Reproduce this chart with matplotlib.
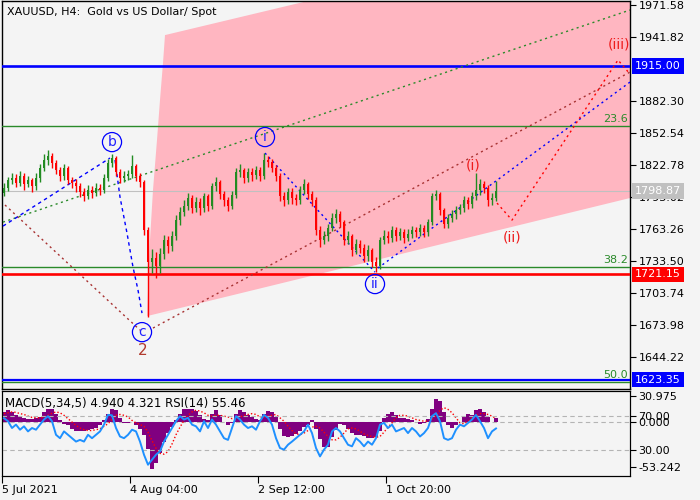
import numpy as np
import matplotlib
matplotlib.use("Agg")
import matplotlib.pyplot as plt

# ---- price data (H4 bars, two real bars per drawn candle) ----
first_open = 1797.0
closes = [
    1801.4, 1808.8, 1810.7, 1806.0, 1812.5, 1805.1, 1808.8, 1803.2, 1810.7, 1820.0,
    1827.4, 1831.1, 1824.6, 1818.1, 1812.5, 1820.0, 1808.8, 1806.0, 1803.2, 1797.6,
    1793.9, 1799.5, 1796.7, 1801.4, 1799.5, 1810.7, 1824.6, 1829.3, 1816.2, 1810.7,
    1812.5, 1814.4, 1821.8, 1812.5, 1806.9, 1762.3, 1732.5, 1736.3, 1728.8, 1740.0,
    1753.0, 1747.4, 1756.7, 1771.6, 1779.0, 1784.6, 1792.1, 1782.8, 1788.3, 1782.8,
    1793.9, 1784.6, 1803.2, 1806.9, 1795.8, 1790.2, 1784.6, 1794.9, 1816.2, 1818.1,
    1810.7, 1816.2, 1813.5, 1818.1, 1812.5, 1827.4, 1825.5, 1820.0, 1812.5, 1793.9,
    1790.2, 1797.6, 1792.1, 1790.2, 1799.5, 1805.1, 1795.8, 1790.2, 1762.3, 1753.0,
    1756.7, 1764.2, 1773.5, 1777.2, 1769.7, 1753.0, 1756.7, 1743.7, 1749.3, 1745.6,
    1738.1, 1743.7, 1732.5, 1728.8, 1753.0, 1756.7, 1754.9, 1762.3, 1756.7, 1760.4,
    1754.9, 1758.6, 1762.3, 1760.4, 1764.2, 1760.4, 1769.7, 1793.9, 1795.8, 1780.9,
    1767.9, 1773.5, 1777.2, 1780.9, 1782.8, 1790.2, 1786.5, 1793.9, 1799.5, 1805.1,
    1801.4, 1790.2, 1792.1, 1798.87,
]
highs = [
    1806, 1812, 1815, 1814, 1817, 1815, 1813, 1811, 1815, 1824,
    1833, 1836.7, 1834, 1827, 1821, 1824, 1822, 1812, 1810, 1806,
    1801, 1804, 1803, 1806, 1805, 1814, 1828, 1833, 1831, 1819,
    1817, 1818, 1832, 1824, 1815, 1809, 1765, 1745, 1742, 1746,
    1758, 1757, 1761, 1776, 1784, 1790, 1797, 1795, 1793, 1792,
    1797, 1796, 1806, 1812, 1809, 1799, 1793, 1799, 1820, 1824,
    1820, 1820, 1820, 1822, 1821, 1834, 1831, 1828, 1823, 1815,
    1798, 1801, 1801, 1796, 1803, 1810, 1807, 1799, 1793, 1766,
    1761, 1768, 1778, 1782, 1780, 1772, 1761, 1759, 1754, 1753,
    1749, 1748, 1746, 1737, 1756, 1762, 1761, 1766, 1765, 1764,
    1763, 1763, 1766, 1765, 1768, 1767, 1773, 1797, 1800, 1798,
    1783, 1777, 1781, 1785, 1787, 1794, 1793, 1798, 1815.3, 1810,
    1808, 1804, 1797, 1808,
]
lows = [
    1794, 1799, 1805, 1802, 1803, 1800, 1802, 1798, 1800, 1807,
    1817, 1823, 1820, 1814, 1808, 1809, 1805, 1801, 1798, 1793,
    1789, 1791, 1792, 1794, 1795, 1797, 1808, 1821, 1813, 1806,
    1807, 1809, 1811, 1808, 1802, 1758, 1681.4, 1722, 1718, 1722,
    1735, 1741, 1743, 1753, 1767, 1775, 1781, 1778, 1779, 1776,
    1779, 1780, 1782, 1799, 1791, 1785, 1780, 1782, 1792, 1812,
    1806, 1807, 1808, 1810, 1808, 1810, 1821, 1816, 1808, 1789,
    1785, 1787, 1787, 1786, 1787, 1796, 1791, 1785, 1758, 1747,
    1749, 1752, 1761, 1769, 1765, 1748, 1749, 1738, 1740, 1741,
    1733, 1734, 1728, 1723, 1726, 1749, 1750, 1751, 1752, 1753,
    1750, 1752, 1755, 1756, 1757, 1756, 1757, 1767, 1790, 1776,
    1764, 1764, 1770, 1773, 1777, 1779, 1782, 1783, 1790, 1795,
    1797, 1785, 1786, 1789,
]

# ---- indicator data ----
macd_main = [
    12, 14, 12, 8, 6, 5, 4, 4, 5, 6,
    12, 16, 15, 10, 2, -2, -4, -8, -10, -10,
    -11, -9, -8, -7, -4, 2, 10, 16, 14, 5,
    -1, -1, 0, -3, -8, -15, -32, -55, -48, -36,
    -24, -13, -6, 3, 10, 15, 16, 15, 13, 8,
    4, 2, 10, 14, 8, 0, -3, -1, 10, 14,
    12, 8, 6, 4, 2, 10, 13, 12, 6, -8,
    -16, -18, -16, -14, -10, -6, -3, 2, -8, -20,
    -29, -30, -18, -9, -2, -4, -8, -13, -15, -15,
    -17, -19, -19, -18, -10, 5, 10, 12, 8, 5,
    5, 4, 3, 0, -2, -1, 4, 15, 27, 25,
    12, -4, -7, -4, 0, 6, 9, 8, 14, 16,
    12, 6, 0, 4.94,
]
macd_signal = [
    10, 11, 12, 11.5, 10, 9, 7, 5.5, 5, 5,
    6, 8, 10.5, 12, 11, 8, 4, 0, -4, -7,
    -9, -10, -10, -9, -8, -5, -2, 3, 8, 9,
    8, 6, 2, -1, -3, -5, -12, -22, -31, -37,
    -38, -35, -26, -15, -6, 2, 8, 12, 14, 13,
    11, 8, 7, 8, 8, 7, 6, 4, 4, 6,
    8, 9, 10, 9, 6, 6, 7, 8, 9, 5,
    1, -5, -10, -14, -15, -13, -10, -6, -5, -7,
    -12, -17, -21, -21, -18, -13, -8, -7, -8, -11,
    -14, -16, -17, -18, -17, -12, -6, -1, 5, 8,
    8, 7, 5, 3, 2, 1, 1, 3, 8, 14,
    17, 15, 11, 5, -1, -2, 1, 5, 8, 10,
    10, 9, 7, 4.321,
]
rsi = [
    67.6, 64, 56, 60, 54, 58, 52, 56, 54, 60,
    66, 70, 64, 48, 44, 52, 48, 44, 40, 42,
    40, 48, 44, 48, 52, 60, 71.5, 71, 56, 46,
    44, 48, 54, 52, 40, 24.5, 12.7, 18.6, 24.5, 28.5,
    40, 48, 56, 64, 70, 66, 68, 60, 58, 52,
    64, 56, 66, 60, 52, 44, 42, 56, 70, 66,
    60, 56, 58, 54, 64, 71.5, 68, 60, 44, 32.4,
    30.5, 36.3, 40, 44, 48, 52, 60, 50, 32.4, 22.5,
    30.5, 36.3, 52, 56, 52, 44, 36.3, 34.4, 44, 40,
    34.4, 40, 36.3, 44, 60, 62, 56, 60, 52, 54,
    56, 50, 56, 52, 46, 50, 56, 70, 73.5, 64,
    44, 42, 44, 54, 60, 58, 62, 66, 71.5, 64,
    56, 44, 52, 55.46,
]

# ---- levels and analysis objects (bar index, price) ----
# 1912.06 is hidden behind the 1915.00 box in the original, so it is left out
price_ticks = [1971.58, 1941.82, 1882.30, 1852.54, 1822.78,
               1793.02, 1763.26, 1733.50, 1703.74, 1673.98, 1644.22]
fib_levels = [1859.1, 1728.0, 1621.2]
fib_names = ["23.6", "38.2", "50.0"]
target_hi = 1915.00
stop_lvl = 1721.15
target_lo = 1623.35
last_price = 1798.87

channel_x = [35.75, 36.5, 37.25, 38.25, 39.0, 39.75, 40.25, 156.5, 156.5]
channel_y = [1682.3, 1753.0, 1799.5, 1846.0, 1883.2, 1917.6, 1943.6, 2046.9, 1792.1]

green_x, green_y = [-0.25, 156.5], [1769.7, 1966.9]
brown1_x, brown1_y = [0.25, 34.0], [1785.6, 1669.3]
brown2_x, brown2_y = [37.25, 156.5], [1671.2, 1909.2]
blue_ab_x, blue_ab_y = [-0.25, 26.5], [1766.0, 1829.3]
blue_bc_x = [27.75, 29.0, 30.75, 32.25, 33.5, 34.5]
blue_bc_y = [1827.4, 1793.0, 1759.5, 1727.9, 1706.5, 1685.1]
blue_i_x, blue_i_y = [65.25, 92.75], [1833.9, 1723.2]
blue_ii_x, blue_ii_y = [93.5, 156.5], [1727.0, 1899.9]
proj_x = [123.25, 127.0, 153.5, 156.5]
proj_y = [1787.4, 1771.6, 1920.4, 1907.4]

circle_labels = ["b", "i", "c", "ii"]
circle_x = [27.0, 65.25, 34.5, 92.75]
circle_y = [1844.1, 1848.8, 1667.4, 1712.1]
minor_labels = ["(i)", "(ii)", "(iii)"]
minor_x = [117.25, 127.0, 153.75]
minor_y = [1822.8, 1755.8, 1934.4]

time_labels = ["5 Jul 2021", "4 Aug 04:00", "2 Sep 12:00", "1 Oct 20:00"]
time_pos = [-0.5, 31.5, 63.5, 95.5]

BG = "#f4f4f4"
UP = "#228b22"
DN = "#ff0000"
GREEN = "#2a8a2a"

fig = plt.figure(figsize=(7, 5), dpi=100, facecolor=BG)
ax = fig.add_axes([2 / 700, 1 - 388.7 / 500, 628 / 700, 387.7 / 500], facecolor=BG)
axm = fig.add_axes([2 / 700, 1 - 475.5 / 500, 628 / 700, 84.8 / 500], facecolor=BG)

# main chart
ax.set_xlim(-0.5, 156.5)
ax.set_ylim(1614.8, 1975.3)
ax.fill(channel_x, channel_y, color="#ffb6c1", lw=0, zorder=1)

ax.axhline(last_price, color="#c0c0c0", lw=0.8, zorder=2)
for lv in fib_levels:
    ax.axhline(lv, color=GREEN, lw=1.0, zorder=3)
ax.axhline(target_hi, color="#0000ff", lw=1.9, zorder=3)
ax.axhline(stop_lvl, color="#ff0000", lw=1.9, zorder=3)
ax.axhline(target_lo, color="#0000ff", lw=1.6, zorder=3)

dot = (0, (1.5, 2.5))
ax.plot(green_x, green_y, color=GREEN, lw=1, ls=dot, zorder=3)
ax.plot(brown1_x, brown1_y, color="#a83232", lw=1, ls=dot, zorder=3)
ax.plot(brown2_x, brown2_y, color="#a83232", lw=1, ls=dot, zorder=3)
ax.plot(blue_ab_x, blue_ab_y, color="#0000ff", lw=1, ls=(0, (2.5, 2.5)), zorder=3)
ax.plot(blue_bc_x, blue_bc_y, color="#0000ff", lw=1, ls=(0, (2.5, 2.5)), zorder=3)
ax.plot(blue_i_x, blue_i_y, color="#0000ff", lw=1, ls=dot, zorder=3)
ax.plot(blue_ii_x, blue_ii_y, color="#0000ff", lw=1, ls=dot, zorder=3)
ax.plot(proj_x, proj_y, color="#ff0000", lw=1, ls=dot, zorder=3)

# candles
opens = [first_open] + closes[:-1]
for i, (o, h, l, c) in enumerate(zip(opens, highs, lows, closes)):
    col = UP if c >= o else DN
    ax.vlines(i, l, h, color=col, lw=1.0, zorder=4)
    ax.bar(i, max(abs(c - o), 0.8), bottom=min(o, c), width=0.65,
           color=col, lw=0, zorder=4)

# wave marks
ax.scatter(circle_x, circle_y, s=190, facecolors="none", edgecolors="#0000ff",
           lw=0.9, zorder=6)
for t, x, y in zip(circle_labels, circle_x, circle_y):
    ax.text(x, y, t, color="#2020ff", fontsize=10, ha="center", va="center", zorder=7)
ax.text(34.75, 1650.7, "2", color="#b03a2e", fontsize=11, ha="center", va="center", zorder=7)
for t, x, y in zip(minor_labels, minor_x, minor_y):
    ax.text(x, y, t, color="#ee1c1c", fontsize=10, ha="center", va="center", zorder=7)

for t, lv in zip(fib_names, fib_levels):
    ax.text(156.0, lv + 1.5, t, color=GREEN, fontsize=8, ha="right", va="bottom", zorder=7)

ax.yaxis.tick_right()
ax.set_yticks(price_ticks)
ax.set_yticklabels(["%.2f" % v for v in price_ticks])
ax.tick_params(axis="y", length=4, width=0.8, labelsize=8, pad=2, colors="black")
ax.set_xticks([])
for s in ax.spines.values():
    s.set_linewidth(1.0)

for lv, fc in [(target_hi, "#0000ff"), (stop_lvl, "#ff0000"),
               (target_lo, "#0000ff"), (last_price, "#c0c0c0")]:
    ax.annotate("%.2f" % lv, xy=(1, lv), xycoords=("axes fraction", "data"),
                xytext=(5, 0), textcoords="offset pixels", fontsize=8, color="white",
                ha="left", va="center", annotation_clip=False, zorder=10,
                bbox=dict(boxstyle="square,pad=0.25", fc=fc, ec="none"))

fig.text(7 / 700, 1 - 12 / 500, "XAUUSD, H4:  Gold vs US Dollar/ Spot",
         fontsize=8, va="center", ha="left")

# indicator panel
axm.set_xlim(-0.5, 156.5)
axm.set_ylim(-63.2, 37.1)
bars = np.arange(len(macd_main))
axm.bar(bars, macd_main, width=1.0, color="#800080", lw=0, zorder=2)
axm.plot(bars, macd_signal, color="#ff0000", lw=1, ls=(0, (1, 1.5)), zorder=3)
axm.axhline(0, color="#b4b4b4", lw=0.8, ls=(0, (4, 3)), zorder=1)
axm.set_xticks(time_pos)
axm.set_xticklabels(time_labels, ha="left")
axm.tick_params(axis="x", length=5, width=0.8, labelsize=8, pad=2)

axr = axm.twinx()
axr.set_ylim(0, 100)
axr.patch.set_visible(False)
axr.plot(bars, rsi, color="#1e90ff", lw=1.4, zorder=4)
for lv in (70, 30):
    axr.axhline(lv, color="#b4b4b4", lw=0.8, ls=(0, (4, 3)), zorder=1)
axr.set_yticks([70, 30])
axr.set_yticklabels(["70.00", "30.00"])
axr.tick_params(axis="y", length=4, width=0.8, labelsize=8, pad=2)

# twinx moves the MACD ticks to the left; put them back on the right
axm.yaxis.tick_right()
axm.set_yticks([30.975, 0, -53.242])
axm.set_yticklabels(["30.975", "0.000", "-53.242"])
axm.tick_params(axis="y", length=4, width=0.8, labelsize=8, pad=2,
                left=False, labelleft=False, right=True, labelright=True)

fig.text(5 / 700, 1 - 403 / 500, "MACD(5,34,5) 4.940 4.321 RSI(14) 55.46",
         fontsize=8.5, va="center", ha="left")

fig.savefig("out.png", dpi=100, facecolor=BG)
